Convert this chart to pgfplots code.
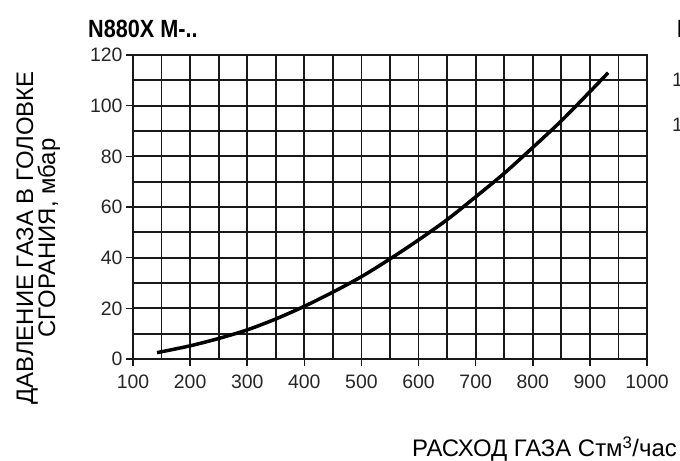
\documentclass[border=0pt]{standalone}
\usepackage{fontspec}
\setmainfont{Liberation Sans}
\newfontfamily\titlefont[FakeStretch=0.87]{Liberation Sans}
\usepackage{pgfplots}
\pgfplotsset{compat=1.18}

\begin{document}
\begin{tikzpicture}[x=1bp,y=1bp]
\useasboundingbox (0,0) rectangle (680,461);
\begin{axis}[
    at={(133bp,102bp)}, anchor=south west,
    scale only axis, width=514bp, height=304bp,
    xmin=100, xmax=1000, ymin=0, ymax=120,
    xtick={100,200,...,1000}, ytick={0,20,...,120},
    minor xtick={150,250,...,950}, minor ytick={10,30,...,110},
    grid=both,
    major grid style={black!90, line width=1.7bp},
    minor grid style={black!90, line width=1.7bp},
    axis line style={black!90, line width=1.7bp},
    tick style={black!90, line width=1.5bp},
    major tick length=7bp, minor tick length=0pt,
    tick align=outside, tick pos=left,
    ticklabel style={font=\fontsize{19.5}{20}\selectfont, text=black!85},
    xticklabel style={yshift=-5bp},
    /pgf/number format/assume math mode=true,
    /pgf/number format/1000 sep={},
  ]
  \addplot[black, line width=3.5bp, smooth] coordinates {
    (142,2.5) (200,5.2) (250,8.1) (300,11.5) (350,15.8) (400,20.8)
    (450,26.4) (500,32.5) (550,39.5) (600,47) (650,55) (700,64)
    (750,73.3) (800,83.5) (850,94) (900,105.5) (932,113)
  };
\end{axis}
% titles and labels
\node[anchor=base west, inner sep=0pt, font=\titlefont\bfseries\fontsize{25}{27}\selectfont] at (88,423) {N880X M-..};
\node[anchor=base east, inner sep=0pt, font=\fontsize{24}{26}\selectfont] at (677,4) {РАСХОД ГАЗА Стм\textsuperscript{3}/час};
\node[rotate=90, anchor=base, inner sep=0pt, font=\fontsize{24}{26}\selectfont] at (33,223) {ДАВЛЕНИЕ ГАЗА В ГОЛОВКЕ};
\node[rotate=90, anchor=base, inner sep=0pt, font=\fontsize{24}{26}\selectfont] at (55,223) {СГОРАНИЯ, мбар};
% cut-off text of the neighbouring chart
\node[anchor=base west, inner sep=0pt, font=\titlefont\bfseries\fontsize{25}{27}\selectfont] at (677,423) {N};
\node[anchor=base west, inner sep=0pt, font=\fontsize{19.5}{20}\selectfont, text=black!85] at (672,374) {1};
\node[anchor=base west, inner sep=0pt, font=\fontsize{19.5}{20}\selectfont, text=black!85] at (672,329) {1};
\end{tikzpicture}
\end{document}
